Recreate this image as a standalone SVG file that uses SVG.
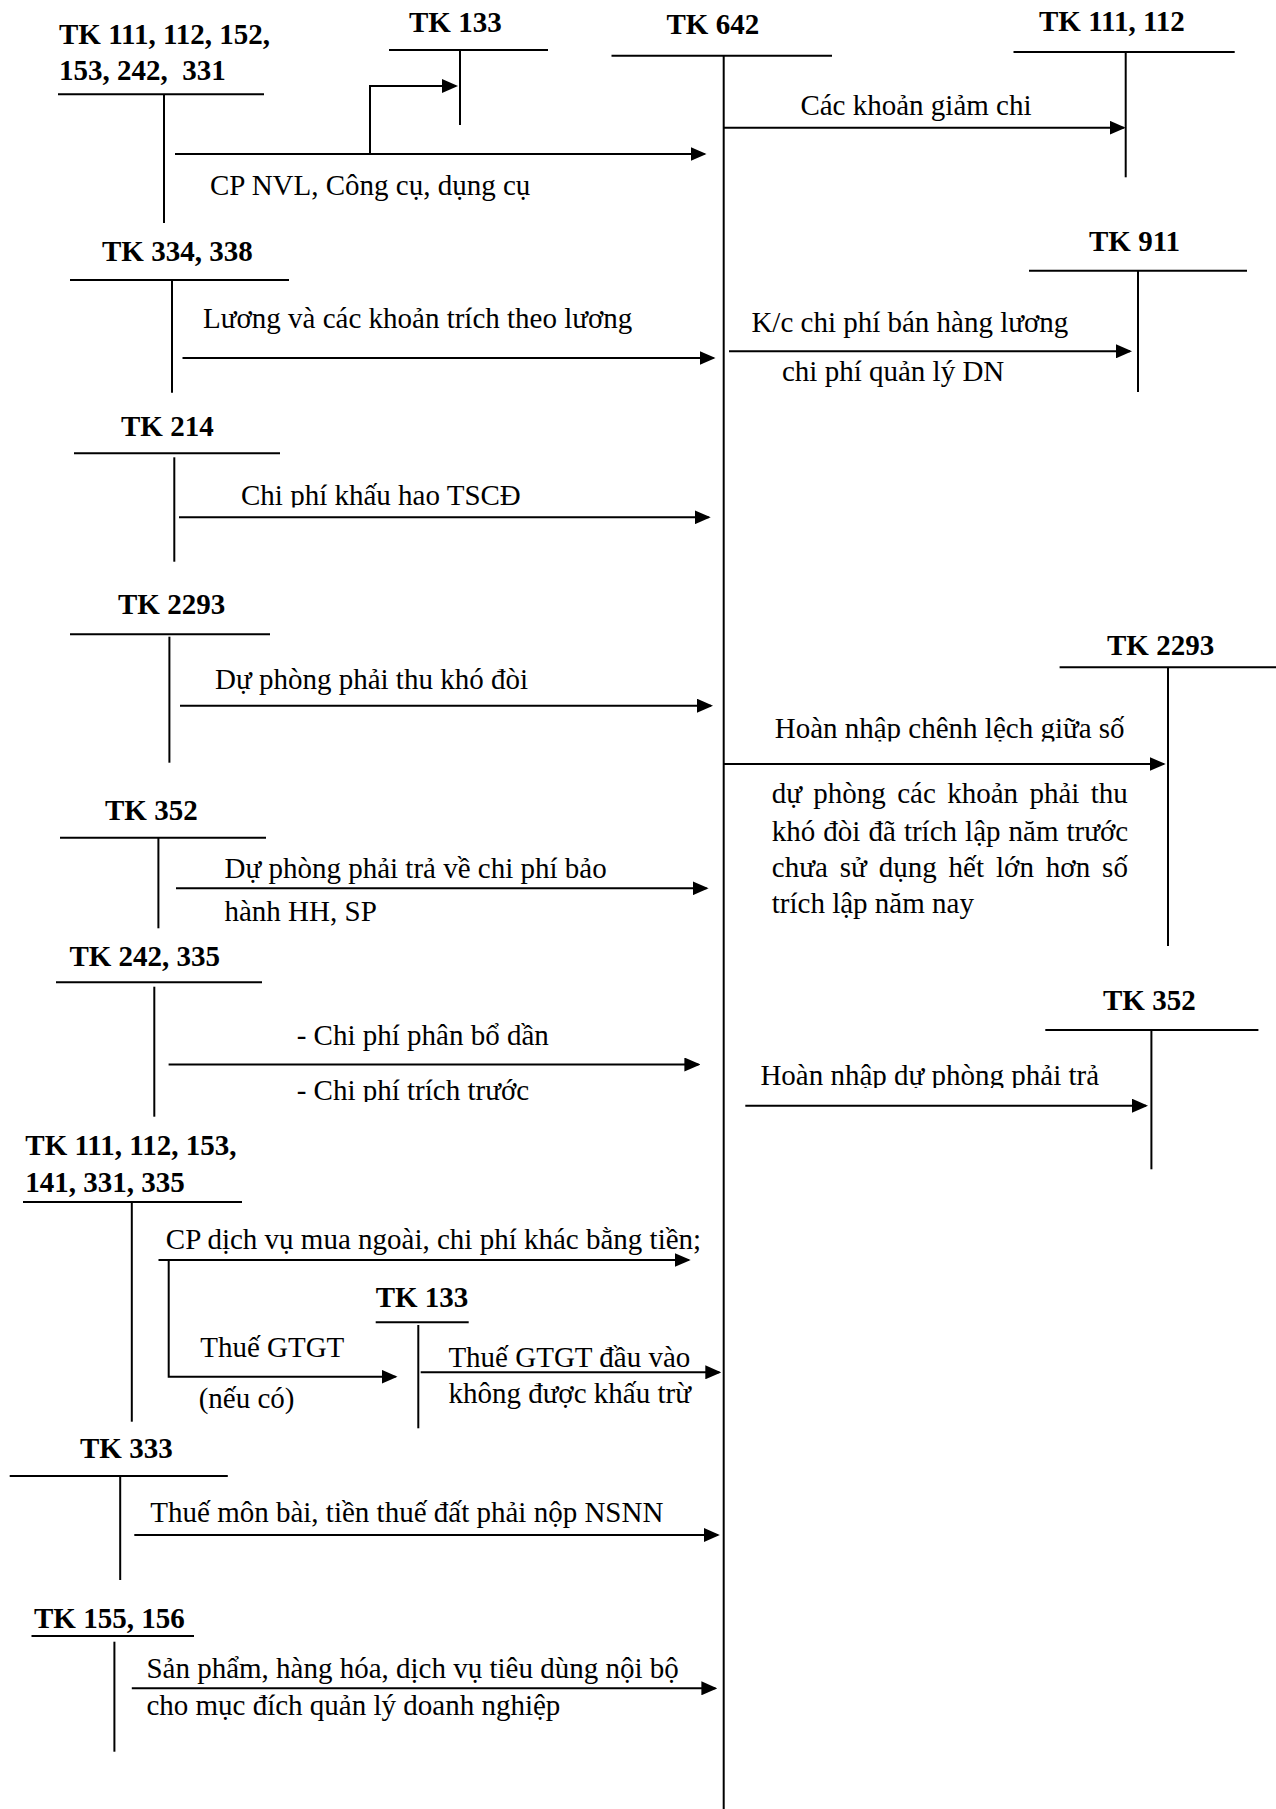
<svg xmlns="http://www.w3.org/2000/svg" width="1276" height="1809" viewBox="0 0 1276 1809">
  <style>
    .ln { stroke: #000; stroke-width: 2; fill: none; }
    .lbl { font-family: "Liberation Serif", "Times New Roman", serif; font-size: 29px; font-weight: bold; fill: #000; white-space: pre; }
    .txt { font-family: "Liberation Serif", "Times New Roman", serif; font-size: 29px; fill: #000; white-space: pre; }
  </style>
  <defs>
    <marker id="arr" markerUnits="userSpaceOnUse" viewBox="0 0 16 14" markerWidth="16" markerHeight="14" refX="14" refY="7" orient="auto">
      <path d="M0,0 L16,7 L0,14 z" fill="#000"/>
    </marker>
    <!-- text boxes that cut their line just under the baseline -->
    <clipPath id="clip-khauhao"><rect x="200" y="470" width="520" height="37.5"/></clipPath>
    <clipPath id="clip-hoannhap1"><rect x="760" y="700" width="400" height="41.5"/></clipPath>
    <clipPath id="clip-tructruoc"><rect x="280" y="1060" width="320" height="42"/></clipPath>
    <clipPath id="clip-hoannhap2"><rect x="740" y="1050" width="400" height="38"/></clipPath>
  </defs>
  <rect width="1276" height="1809" fill="#fff"/>

  <!-- T-accounts -->
  <g id="tk111-152">
    <text class="lbl" x="59" y="44">TK 111, 112, 152,</text>
    <text class="lbl" x="59" y="80">153, 242,  331</text>
    <line class="ln" x1="58" y1="94.3" x2="264" y2="94.3"/>
    <line class="ln" x1="164" y1="94.3" x2="164" y2="223"/>
  </g>
  <g id="tk133-top">
    <text class="lbl" x="409" y="31.7">TK 133</text>
    <line class="ln" x1="389" y1="50" x2="548" y2="50"/>
    <line class="ln" x1="460" y1="50" x2="460" y2="125"/>
  </g>
  <g id="tk642">
    <text class="lbl" x="666.5" y="34.3">TK 642</text>
    <line class="ln" x1="611.5" y1="55.7" x2="832" y2="55.7"/>
    <line class="ln" x1="723.7" y1="55.7" x2="723.7" y2="1809"/>
  </g>
  <g id="tk111-112">
    <text class="lbl" x="1039" y="30.7">TK 111, 112</text>
    <line class="ln" x1="1013.5" y1="52" x2="1234.7" y2="52"/>
    <line class="ln" x1="1125.7" y1="52" x2="1125.7" y2="177.3"/>
  </g>
  <g id="tk334-338">
    <text class="lbl" x="102" y="260.7">TK 334, 338</text>
    <line class="ln" x1="70" y1="280" x2="289" y2="280"/>
    <line class="ln" x1="172" y1="280" x2="172" y2="392.7"/>
  </g>
  <g id="tk911">
    <text class="lbl" x="1089" y="250.7">TK 911</text>
    <line class="ln" x1="1029" y1="270.7" x2="1247" y2="270.7"/>
    <line class="ln" x1="1138" y1="270.7" x2="1138" y2="392"/>
  </g>
  <g id="tk214">
    <text class="lbl" x="121" y="436">TK 214</text>
    <line class="ln" x1="74" y1="453.3" x2="280" y2="453.3"/>
    <line class="ln" x1="174.3" y1="457.3" x2="174.3" y2="561.7"/>
  </g>
  <g id="tk2293-left">
    <text class="lbl" x="118" y="614.3">TK 2293</text>
    <line class="ln" x1="70" y1="634.3" x2="270" y2="634.3"/>
    <line class="ln" x1="169.4" y1="636.7" x2="169.4" y2="762.7"/>
  </g>
  <g id="tk2293-right">
    <text class="lbl" x="1107" y="655">TK 2293</text>
    <line class="ln" x1="1059.6" y1="667.3" x2="1276" y2="667.3"/>
    <line class="ln" x1="1168" y1="667.3" x2="1168" y2="946"/>
  </g>
  <g id="tk352-left">
    <text class="lbl" x="105" y="820">TK 352</text>
    <line class="ln" x1="60" y1="837.7" x2="266" y2="837.7"/>
    <line class="ln" x1="158.4" y1="837.7" x2="158.4" y2="928.3"/>
  </g>
  <g id="tk242-335">
    <text class="lbl" x="69.4" y="966">TK 242, 335</text>
    <line class="ln" x1="56" y1="982.3" x2="262" y2="982.3"/>
    <line class="ln" x1="154.3" y1="986.7" x2="154.3" y2="1116.7"/>
  </g>
  <g id="tk352-right">
    <text class="lbl" x="1103" y="1010">TK 352</text>
    <line class="ln" x1="1045.3" y1="1030" x2="1258.4" y2="1030"/>
    <line class="ln" x1="1151.4" y1="1030" x2="1151.4" y2="1169.3"/>
  </g>
  <g id="tk111-335">
    <text class="lbl" x="25.3" y="1155">TK 111, 112, 153,</text>
    <text class="lbl" x="25.3" y="1192">141, 331, 335</text>
    <line class="ln" x1="23" y1="1202" x2="242" y2="1202"/>
    <line class="ln" x1="131.8" y1="1202" x2="131.8" y2="1421.7"/>
  </g>
  <g id="tk133-lower">
    <text class="lbl" x="375.7" y="1307.3">TK 133</text>
    <line class="ln" x1="375.7" y1="1322.3" x2="468.7" y2="1322.3"/>
    <line class="ln" x1="418.3" y1="1325" x2="418.3" y2="1428.3"/>
  </g>
  <g id="tk333">
    <text class="lbl" x="80" y="1458.3">TK 333</text>
    <line class="ln" x1="9.7" y1="1476" x2="227.8" y2="1476"/>
    <line class="ln" x1="120.2" y1="1476" x2="120.2" y2="1580"/>
  </g>
  <g id="tk155-156">
    <text class="lbl" x="34" y="1628.3">TK 155, 156</text>
    <line class="ln" x1="31.5" y1="1636" x2="194" y2="1636"/>
    <line class="ln" x1="114.4" y1="1641.7" x2="114.4" y2="1751.7"/>
  </g>

  <!-- Entries -->
  <g id="connectors">
    <line class="ln" x1="175" y1="154" x2="704.5" y2="154" marker-end="url(#arr)"/>
    <polyline class="ln" points="370,154 370,86 456,86" marker-end="url(#arr)"/>
    <line class="ln" x1="724" y1="127.7" x2="1123.7" y2="127.7" marker-end="url(#arr)"/>
    <line class="ln" x1="182.5" y1="358" x2="713.5" y2="358" marker-end="url(#arr)"/>
    <line class="ln" x1="729" y1="351.3" x2="1130" y2="351.3" marker-end="url(#arr)"/>
    <line class="ln" x1="179" y1="517.3" x2="708.7" y2="517.3" marker-end="url(#arr)"/>
    <line class="ln" x1="180" y1="705.7" x2="711" y2="705.7" marker-end="url(#arr)"/>
    <line class="ln" x1="724" y1="764" x2="1163.7" y2="764" marker-end="url(#arr)"/>
    <line class="ln" x1="176" y1="888.3" x2="706.6" y2="888.3" marker-end="url(#arr)"/>
    <line class="ln" x1="168.6" y1="1064.5" x2="698.4" y2="1064.5" marker-end="url(#arr)"/>
    <line class="ln" x1="745.3" y1="1105.7" x2="1146" y2="1105.7" marker-end="url(#arr)"/>
    <line class="ln" x1="158.5" y1="1260" x2="688.7" y2="1260" marker-end="url(#arr)"/>
    <polyline class="ln" points="168.7,1260 168.7,1376.7 395.5,1376.7" marker-end="url(#arr)"/>
    <line class="ln" x1="420.7" y1="1372.3" x2="719.3" y2="1372.3" marker-end="url(#arr)"/>
    <line class="ln" x1="134.3" y1="1535" x2="717.8" y2="1535" marker-end="url(#arr)"/>
    <line class="ln" x1="131.8" y1="1688.3" x2="715.4" y2="1688.3" marker-end="url(#arr)"/>
  </g>

  <!-- Entry labels -->
  <g id="labels">
    <text class="txt" x="210" y="195">CP NVL, Công cụ, dụng cụ</text>
    <text class="txt" x="800.4" y="115">Các khoản giảm chi</text>
    <text class="txt" x="203" y="328.3">Lương và các khoản trích theo lương</text>
    <text class="txt" x="751.4" y="332.3">K/c chi phí bán hàng lương</text>
    <text class="txt" x="782" y="381">chi phí quản lý DN</text>
    <text class="txt" x="241" y="505" clip-path="url(#clip-khauhao)">Chi phí khấu hao TSCĐ</text>
    <text class="txt" x="215" y="689">Dự phòng phải thu khó đòi</text>
    <text class="txt" x="774.7" y="737.7" clip-path="url(#clip-hoannhap1)">Hoàn nhập chênh lệch giữa số</text>
    <text class="txt" x="771.8" y="803.3" word-spacing="4.1">dự phòng các khoản phải thu</text>
    <text class="txt" x="771.8" y="840.7" word-spacing="0.8">khó đòi đã trích lập năm trước</text>
    <text class="txt" x="771.8" y="876.7" word-spacing="4.7">chưa sử dụng hết lớn hơn số</text>
    <text class="txt" x="771.8" y="913.3">trích lập năm nay</text>
    <text class="txt" x="224.5" y="878.3">Dự phòng phải trả về chi phí bảo</text>
    <text class="txt" x="224.5" y="920.7">hành HH, SP</text>
    <text class="txt" x="296.7" y="1045">- Chi phí phân bổ dần</text>
    <text class="txt" x="296.7" y="1100" clip-path="url(#clip-tructruoc)">- Chi phí trích trước</text>
    <text class="txt" x="760.4" y="1085" clip-path="url(#clip-hoannhap2)">Hoàn nhập dự phòng phải trả</text>
    <text class="txt" x="165.8" y="1249.3">CP dịch vụ mua ngoài, chi phí khác bằng tiền;</text>
    <text class="txt" x="200.2" y="1356.7">Thuế GTGT</text>
    <text class="txt" x="198.7" y="1408.3">(nếu có)</text>
    <text class="txt" x="448.4" y="1366.7">Thuế GTGT đầu vào</text>
    <text class="txt" x="448.4" y="1403.3">không được khấu trừ</text>
    <text class="txt" x="150.3" y="1521.7">Thuế môn bài, tiền thuế đất phải nộp NSNN</text>
    <text class="txt" x="146.4" y="1678.3">Sản phẩm, hàng hóa, dịch vụ tiêu dùng nội bộ</text>
    <text class="txt" x="146.4" y="1715">cho mục đích quản lý doanh nghiệp</text>
  </g>
</svg>
